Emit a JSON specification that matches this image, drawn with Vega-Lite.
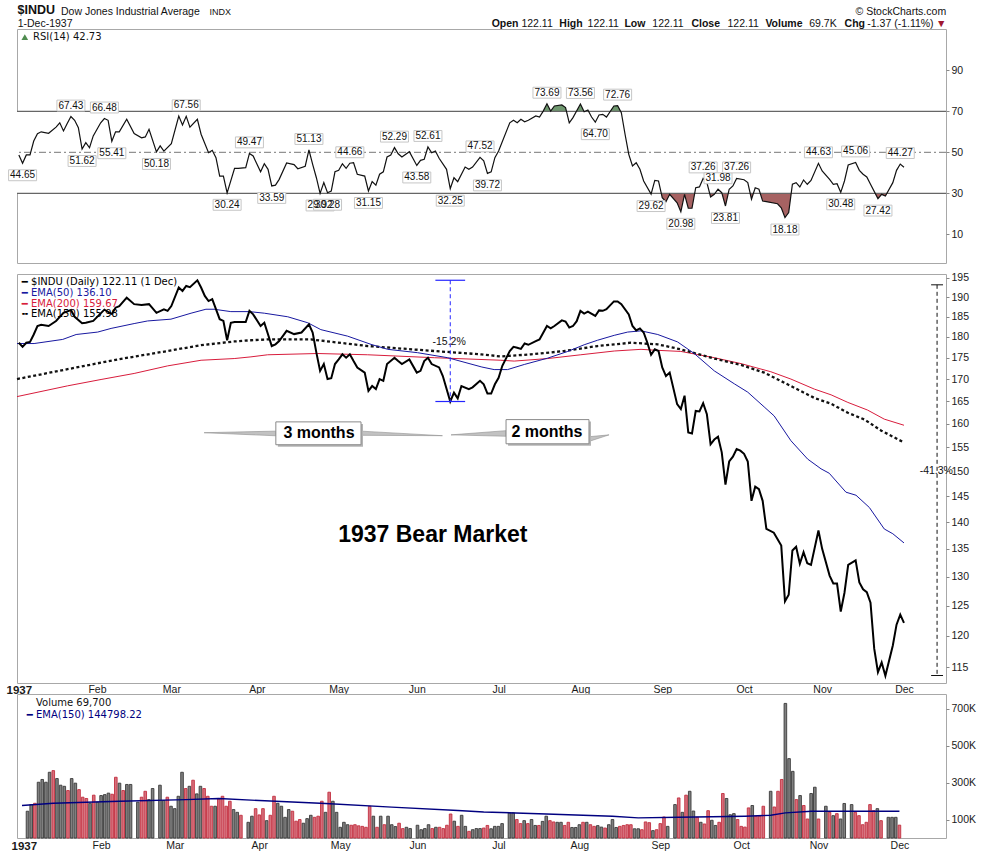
{
  "$schema": "https://vega.github.io/schema/vega-lite/v6.json",
  "background": "white",
  "padding": {"left": 5, "top": 2, "right": 0, "bottom": 0},
  "bounds": "flush",
  "spacing": 11,
  "resolve": {"scale": {"x": "independent", "y": "independent", "color": "independent", "stroke": "independent"}},
  "config": {
    "view": {"stroke": "#a8a8a8"},
    "axis": {"labelFont": "Liberation Sans", "labelFontSize": 10.5, "labelColor": "#1a1a1a", "tickColor": "#888888", "domain": false, "grid": false}
  },
  "datasets": {
    "px": [
      {"d":0,"p":178.6},{"d":1,"p":177.6},{"d":2,"p":178.6},{"d":3,"p":178.8},{"d":4,"p":180.6},{"d":5,"p":182.7},{"d":6,"p":183.0},{"d":8,"p":182.7},{"d":10,"p":183.95},{"d":12,"p":186.0},{"d":14,"p":186.7},{"d":15,"p":185.0},{"d":17,"p":183.4},{"d":18,"p":183.5},{"d":20,"p":183.95},{"d":23,"p":186.8},{"d":25,"p":185.7},{"d":26,"p":187.3},{"d":27,"p":187.7},{"d":29,"p":189.85},
      {"d":31,"p":188.2},{"d":33,"p":188.0},{"d":35,"p":188.2},{"d":37,"p":186.0},{"d":39,"p":186.9},{"d":40,"p":186.5},{"d":41,"p":187.7},{"d":43,"p":192.5},{"d":44,"p":191.6},{"d":45,"p":192.9},{"d":46,"p":192.6},{"d":48,"p":194.4},{"d":49,"p":192.5},{"d":50,"p":190.3},{"d":51,"p":189.0},{"d":52,"p":189.5},{"d":54,"p":184.4},{"d":55,"p":183.95},{"d":56,"p":179.2},{"d":57,"p":183.5},{"d":58,"p":183.7},
      {"d":61,"p":183.7},{"d":62,"p":186.5},{"d":63,"p":185.6},{"d":65,"p":182.7},{"d":66,"p":183.5},{"d":68,"p":177.8},{"d":69,"p":178.2},{"d":70,"p":179.0},{"d":72,"p":181.5},{"d":74,"p":180.7},{"d":76,"p":181.1},{"d":78,"p":183.1},{"d":79,"p":181.1},{"d":80,"p":176.2},{"d":81,"p":171.9},{"d":82,"p":173.5},{"d":83,"p":170.0},{"d":84,"p":170.2},{"d":85,"p":173.5},{"d":86,"p":174.6},{"d":87,"p":175.8},{"d":88,"p":175.0},{"d":89,"p":175.8},{"d":90,"p":174.2},{"d":91,"p":172.7},{"d":93,"p":171.5},{"d":94,"p":167.3},{"d":95,"p":168.4},{"d":96,"p":167.7},{"d":97,"p":170.0},{"d":98,"p":169.6},{"d":99,"p":173.5},
      {"d":101,"p":175.0},{"d":102,"p":174.2},{"d":103,"p":173.5},{"d":105,"p":174.6},{"d":107,"p":171.5},{"d":108,"p":171.9},{"d":109,"p":174.2},{"d":110,"p":175.0},{"d":111,"p":173.5},{"d":113,"p":172.7},{"d":114,"p":170.7},{"d":116,"p":164.9},{"d":117,"p":166.9},{"d":118,"p":165.6},{"d":119,"p":168.4},{"d":121,"p":167.7},{"d":122,"p":168.1},{"d":124,"p":169.6},{"d":125,"p":168.8},{"d":126,"p":166.7},{"d":127,"p":166.7},{"d":128,"p":168.8},{"d":129,"p":170.3},{"d":130,"p":173.1},
      {"d":132,"p":176.6},{"d":133,"p":177.6},{"d":134,"p":177.4},{"d":135,"p":177.1},{"d":136,"p":178.4},{"d":137,"p":178.1},{"d":139,"p":179.0},{"d":140,"p":179.4},{"d":142,"p":182.7},{"d":143,"p":182.1},{"d":144,"p":182.7},{"d":146,"p":184.1},{"d":147,"p":183.8},{"d":148,"p":182.3},{"d":149,"p":182.7},{"d":150,"p":183.9},{"d":151,"p":186.5},{"d":152,"p":185.8},{"d":153,"p":186.3},{"d":155,"p":185.2},{"d":156,"p":186.6},{"d":157,"p":186.5},{"d":158,"p":186.9},{"d":160,"p":188.9},{"d":161,"p":188.9},{"d":162,"p":188.2},{"d":164,"p":185.6},{"d":165,"p":182.7},{"d":166,"p":181.6},{"d":167,"p":182.1},{"d":168,"p":181.1},{"d":169,"p":178.6},{"d":170,"p":175.7},{"d":171,"p":177.0},{"d":172,"p":176.6},{"d":173,"p":172.7},{"d":174,"p":170.7},{"d":175,"p":171.5},
      {"d":177,"p":164.3},{"d":178,"p":163.2},{"d":179,"p":166.2},{"d":180,"p":158.1},{"d":181,"p":157.9},{"d":182,"p":162.8},{"d":183,"p":162.7},{"d":184,"p":164.5},{"d":185,"p":162.1},{"d":186,"p":155.6},{"d":187,"p":156.6},{"d":188,"p":157.2},{"d":189,"p":153.9},{"d":190,"p":147.3},{"d":191,"p":152.0},{"d":192,"p":153.0},{"d":193,"p":154.6},{"d":194,"p":154.25},{"d":195,"p":153.6},{"d":196,"p":152.0},{"d":197,"p":144.1},{"d":198,"p":146.9},{"d":199,"p":146.4},{"d":200,"p":144.1},{"d":201,"p":138.7},
      {"d":203,"p":138.0},{"d":205,"p":135.6},{"d":206,"p":125.73},{"d":207,"p":126.85},{"d":208,"p":134.7},{"d":209,"p":135.4},{"d":210,"p":132.3},{"d":211,"p":134.4},{"d":212,"p":132.4},{"d":213,"p":132.1},{"d":215,"p":138.4},{"d":216,"p":135.0},{"d":218,"p":130.2},{"d":219,"p":128.8},{"d":220,"p":128.8},{"d":221,"p":124.0},{"d":222,"p":127.2},{"d":223,"p":132.1},{"d":225,"p":132.9},{"d":226,"p":129.0},{"d":227,"p":127.8},{"d":228,"p":127.3},{"d":229,"p":125.5},{"d":230,"p":117.9},{"d":231,"p":114.2},{"d":232,"p":115.7},{"d":233,"p":113.64},{"d":235,"p":118.4},{"d":236,"p":121.8},{"d":237,"p":123.48},{"d":238,"p":122.11}
    ],
    "ema": [
      {"s":"e50","d":-0.5,"p":178.4},{"s":"e50","d":4.1,"p":178.4},{"s":"e50","d":11.8,"p":179.4},{"s":"e50","d":15.4,"p":180.6},{"s":"e50","d":21.2,"p":181.2},{"s":"e50","d":24.8,"p":182.1},{"s":"e50","d":31,"p":183.3},{"s":"e50","d":34.6,"p":183.95},{"s":"e50","d":40.9,"p":184.4},{"s":"e50","d":46.3,"p":185.9},{"s":"e50","d":50.3,"p":186.9},{"s":"e50","d":52.5,"p":186.9},{"s":"e50","d":57,"p":186.3},{"s":"e50","d":62,"p":186.3},{"s":"e50","d":66,"p":185.9},{"s":"e50","d":72.3,"p":185.0},{"s":"e50","d":77.7,"p":183.5},{"s":"e50","d":81.2,"p":181.8},{"s":"e50","d":88.4,"p":180.2},{"s":"e50","d":94.7,"p":178.2},{"s":"e50","d":99.2,"p":177.0},{"s":"e50","d":107.2,"p":176.2},{"s":"e50","d":115.3,"p":175.0},{"s":"e50","d":124.5,"p":172.8},{"s":"e50","d":127.8,"p":172.2},{"s":"e50","d":131.4,"p":172.2},{"s":"e50","d":135.9,"p":173.4},{"s":"e50","d":142.2,"p":174.9},{"s":"e50","d":147.6,"p":176.5},{"s":"e50","d":152,"p":178.1},{"s":"e50","d":155.6,"p":179.2},{"s":"e50","d":160.1,"p":180.4},{"s":"e50","d":163.7,"p":181.2},{"s":"e50","d":167.3,"p":181.5},{"s":"e50","d":171.8,"p":180.6},{"s":"e50","d":177.1,"p":178.8},{"s":"e50","d":181.6,"p":176.0},{"s":"e50","d":187,"p":171.9},{"s":"e50","d":192.4,"p":168.9},{"s":"e50","d":196,"p":167.0},{"s":"e50","d":200.4,"p":163.7},{"s":"e50","d":203.1,"p":161.7},{"s":"e50","d":207.6,"p":156.35},{"s":"e50","d":212.1,"p":152.5},{"s":"e50","d":215.7,"p":150.5},{"s":"e50","d":217.9,"p":149.6},{"s":"e50","d":222.4,"p":145.8},{"s":"e50","d":225.1,"p":145.2},{"s":"e50","d":228.7,"p":142.8},{"s":"e50","d":232.7,"p":138.7},{"s":"e50","d":235,"p":137.8},{"s":"e50","d":238,"p":136.1},
      {"s":"e200","d":-0.5,"p":166.0},{"s":"e200","d":13.1,"p":168.44},{"s":"e200","d":22.1,"p":169.9},{"s":"e200","d":31,"p":171.3},{"s":"e200","d":40,"p":173.07},{"s":"e200","d":49,"p":174.4},{"s":"e200","d":57.9,"p":174.8},{"s":"e200","d":62.4,"p":175.2},{"s":"e200","d":66.9,"p":175.7},{"s":"e200","d":80.3,"p":176.0},{"s":"e200","d":93.8,"p":175.7},{"s":"e200","d":111.7,"p":175.0},{"s":"e200","d":129.6,"p":174.4},{"s":"e200","d":133.2,"p":174.2},{"s":"e200","d":142.2,"p":174.8},{"s":"e200","d":151.1,"p":175.7},{"s":"e200","d":160.1,"p":176.6},{"s":"e200","d":167.3,"p":177.0},{"s":"e200","d":170.9,"p":176.8},{"s":"e200","d":178,"p":176.5},{"s":"e200","d":187,"p":175.0},{"s":"e200","d":194.2,"p":173.6},{"s":"e200","d":202.2,"p":171.7},{"s":"e200","d":207.6,"p":170.0},{"s":"e200","d":213.9,"p":167.7},{"s":"e200","d":218.4,"p":166.4},{"s":"e200","d":222.9,"p":164.7},{"s":"e200","d":228.2,"p":163.0},{"s":"e200","d":232.7,"p":161.0},{"s":"e200","d":238,"p":159.67},
      {"s":"e150","d":-0.5,"p":170.0},{"s":"e150","d":13.1,"p":172.3},{"s":"e150","d":26.6,"p":174.6},{"s":"e150","d":40,"p":176.6},{"s":"e150","d":49,"p":178.0},{"s":"e150","d":57.9,"p":178.9},{"s":"e150","d":62.4,"p":179.2},{"s":"e150","d":66.9,"p":179.4},{"s":"e150","d":78.5,"p":179.4},{"s":"e150","d":93.8,"p":177.8},{"s":"e150","d":111.7,"p":176.6},{"s":"e150","d":124.3,"p":175.8},{"s":"e150","d":129.6,"p":175.3},{"s":"e150","d":137.7,"p":175.8},{"s":"e150","d":146.7,"p":176.6},{"s":"e150","d":155.6,"p":177.8},{"s":"e150","d":164.6,"p":178.6},{"s":"e150","d":171.8,"p":178.2},{"s":"e150","d":178,"p":177.0},{"s":"e150","d":187,"p":174.8},{"s":"e150","d":194.2,"p":173.3},{"s":"e150","d":200.4,"p":171.5},{"s":"e150","d":207.6,"p":168.4},{"s":"e150","d":213.9,"p":165.7},{"s":"e150","d":218.4,"p":164.4},{"s":"e150","d":222.9,"p":162.4},{"s":"e150","d":227.4,"p":160.9},{"s":"e150","d":231.9,"p":158.5},{"s":"e150","d":238,"p":155.98}
    ],
    "rsi": [
      {"d":0,"r":48.7},{"d":1,"r":44.65},{"d":2,"r":48.7},{"d":3,"r":48.7},{"d":4,"r":55.5},{"d":5,"r":59.1},{"d":6,"r":60.0},{"d":8,"r":59.3},{"d":10,"r":62.3},{"d":11,"r":64.4},{"d":12,"r":60.4},{"d":13,"r":64.0},{"d":14,"r":67.43},{"d":15,"r":65.6},{"d":16,"r":62.0},{"d":17,"r":51.62},{"d":18,"r":54.7},{"d":19,"r":52.2},{"d":20,"r":58.0},{"d":22,"r":64.4},{"d":23,"r":66.48},{"d":24,"r":65.6},{"d":25,"r":55.41},{"d":26,"r":60.0},{"d":27,"r":60.0},{"d":29,"r":66.1},
      {"d":31,"r":59.1},{"d":33,"r":57.1},{"d":34,"r":57.5},{"d":35,"r":61.2},{"d":37,"r":50.18},{"d":38,"r":53.1},{"d":39,"r":50.6},{"d":41,"r":54.2},{"d":43,"r":67.7},{"d":44,"r":63.3},{"d":45,"r":67.56},{"d":46,"r":62.3},{"d":48,"r":66.1},{"d":49,"r":58.8},{"d":51,"r":49.8},{"d":52,"r":51.0},{"d":53,"r":47.4},{"d":54,"r":38.4},{"d":55,"r":38.4},{"d":56,"r":30.24},{"d":58,"r":42.2},{"d":59,"r":42.2},
      {"d":61,"r":42.5},{"d":62,"r":49.47},{"d":63,"r":48.2},{"d":65,"r":40.5},{"d":66,"r":44.4},{"d":67,"r":41.7},{"d":68,"r":33.59},{"d":69,"r":34.0},{"d":70,"r":36.8},{"d":72,"r":44.8},{"d":74,"r":44.0},{"d":75,"r":42.0},{"d":77,"r":43.2},{"d":78,"r":51.13},{"d":79,"r":44.1},{"d":80,"r":37.6},{"d":81,"r":29.92},{"d":82,"r":35.2},{"d":83,"r":30.28},{"d":84,"r":31.1},{"d":85,"r":40.5},{"d":86,"r":41.2},{"d":87,"r":44.4},{"d":88,"r":42.2},{"d":89,"r":44.66},{"d":90,"r":44.9},{"d":91,"r":39.3},{"d":93,"r":38.4},{"d":94,"r":31.15},{"d":95,"r":35.7},{"d":96,"r":34.0},{"d":97,"r":39.3},{"d":98,"r":40.5},{"d":99,"r":47.7},{"d":100,"r":48.7},
      {"d":101,"r":52.29},{"d":102,"r":49.3},{"d":103,"r":47.7},{"d":105,"r":50.3},{"d":107,"r":43.58},{"d":108,"r":46.1},{"d":109,"r":46.6},{"d":110,"r":52.61},{"d":111,"r":49.8},{"d":112,"r":50.6},{"d":113,"r":47.1},{"d":115,"r":41.7},{"d":116,"r":32.25},{"d":117,"r":37.6},{"d":118,"r":35.7},{"d":120,"r":42.8},{"d":121,"r":41.7},{"d":122,"r":42.8},{"d":124,"r":47.52},{"d":125,"r":45.8},{"d":126,"r":39.72},{"d":127,"r":40.5},{"d":128,"r":47.4},{"d":129,"r":50.6},
      {"d":132,"r":64.4},{"d":133,"r":65.6},{"d":134,"r":64.4},{"d":135,"r":66.1},{"d":136,"r":64.9},{"d":137,"r":65.6},{"d":139,"r":67.7},{"d":140,"r":67.2},{"d":141,"r":70.1},{"d":142,"r":73.69},{"d":143,"r":70.1},{"d":144,"r":72.6},{"d":146,"r":73.1},{"d":147,"r":71.8},{"d":148,"r":64.4},{"d":149,"r":66.9},{"d":151,"r":73.56},{"d":152,"r":69.8},{"d":153,"r":70.6},{"d":154,"r":67.2},{"d":155,"r":64.70},{"d":156,"r":68.2},{"d":157,"r":68.5},{"d":158,"r":67.2},{"d":160,"r":72.6},{"d":161,"r":72.76},{"d":162,"r":69.3},{"d":163,"r":58.8},{"d":164,"r":49.0},{"d":165,"r":43.3},{"d":166,"r":44.9},{"d":167,"r":41.7},{"d":168,"r":36.0},{"d":170,"r":29.62},{"d":171,"r":36.3},{"d":172,"r":36.0},{"d":173,"r":27.9},{"d":174,"r":25.9},{"d":175,"r":29.5},
      {"d":177,"r":25.4},{"d":178,"r":20.98},{"d":179,"r":29.5},{"d":180,"r":22.7},{"d":181,"r":22.7},{"d":182,"r":32.7},{"d":183,"r":33.1},{"d":184,"r":37.26},{"d":185,"r":35.2},{"d":186,"r":28.2},{"d":187,"r":29.5},{"d":188,"r":31.98},{"d":189,"r":30.3},{"d":190,"r":23.81},{"d":191,"r":32.0},{"d":192,"r":33.6},{"d":193,"r":37.26},{"d":195,"r":36.6},{"d":196,"r":35.2},{"d":197,"r":27.1},{"d":198,"r":32.7},{"d":199,"r":32.0},{"d":200,"r":26.2},{"d":201,"r":25.9},
      {"d":204,"r":24.9},{"d":205,"r":22.9},{"d":206,"r":18.18},{"d":207,"r":20.6},{"d":208,"r":34.4},{"d":209,"r":35.2},{"d":210,"r":33.1},{"d":211,"r":36.5},{"d":212,"r":34.4},{"d":213,"r":36.3},{"d":215,"r":44.63},{"d":216,"r":40.9},{"d":218,"r":36.8},{"d":219,"r":34.4},{"d":220,"r":34.7},{"d":221,"r":30.48},{"d":222,"r":36.0},{"d":223,"r":43.8},{"d":225,"r":45.06},{"d":226,"r":41.2},{"d":227,"r":39.3},{"d":228,"r":38.0},{"d":229,"r":34.4},{"d":231,"r":27.42},{"d":232,"r":29.5},{"d":233,"r":28.7},{"d":235,"r":35.2},{"d":236,"r":41.2},{"d":237,"r":44.27},{"d":238,"r":42.73}
    ],
    "rl": [
      {"d":14,"r":67.43,"hl":"h"},{"d":23,"r":66.48,"hl":"h"},{"d":45,"r":67.56,"hl":"h"},{"d":62,"r":49.47,"hl":"h"},{"d":78,"r":51.13,"hl":"h"},{"d":89,"r":44.66,"hl":"h"},{"d":101,"r":52.29,"hl":"h"},{"d":110,"r":52.61,"hl":"h"},{"d":124,"r":47.52,"hl":"h"},{"d":142,"r":73.69,"hl":"h"},{"d":151,"r":73.56,"hl":"h"},{"d":161,"r":72.76,"hl":"h"},{"d":184,"r":37.26,"hl":"h"},{"d":188,"r":31.98,"hl":"h"},{"d":193,"r":37.26,"hl":"h"},{"d":215,"r":44.63,"hl":"h"},{"d":225,"r":45.06,"hl":"h"},{"d":237,"r":44.27,"hl":"h"},
      {"d":1,"r":44.65,"hl":"l"},{"d":17,"r":51.62,"hl":"l"},{"d":25,"r":55.41,"hl":"l"},{"d":37,"r":50.18,"hl":"l"},{"d":56,"r":30.24,"hl":"l"},{"d":68,"r":33.59,"hl":"l"},{"d":81,"r":29.92,"hl":"l"},{"d":83,"r":30.28,"hl":"l"},{"d":94,"r":31.15,"hl":"l"},{"d":107,"r":43.58,"hl":"l"},{"d":116,"r":32.25,"hl":"l"},{"d":126,"r":39.72,"hl":"l"},{"d":155,"r":64.70,"hl":"l"},{"d":170,"r":29.62,"hl":"l"},{"d":178,"r":20.98,"hl":"l"},{"d":190,"r":23.81,"hl":"l"},{"d":206,"r":18.18,"hl":"l"},{"d":221,"r":30.48,"hl":"l"},{"d":231,"r":27.42,"hl":"l"}
    ],
    "vol": [
      {"d":1,"v":145,"c":"u"},{"d":2,"v":181,"c":"u"},{"d":3,"v":188,"c":"d"},{"d":4,"v":302,"c":"u"},{"d":5,"v":317,"c":"u"},{"d":6,"v":302,"c":"u"},{"d":7,"v":356,"c":"u"},{"d":8,"v":365,"c":"d"},{"d":9,"v":322,"c":"u"},{"d":10,"v":286,"c":"u"},{"d":11,"v":280,"c":"u"},{"d":12,"v":257,"c":"d"},{"d":13,"v":322,"c":"u"},{"d":14,"v":297,"c":"u"},{"d":15,"v":262,"c":"d"},{"d":16,"v":221,"c":"d"},{"d":17,"v":214,"c":"d"},{"d":18,"v":188,"c":"u"},{"d":19,"v":232,"c":"d"},{"d":20,"v":194,"c":"u"},
      {"d":21,"v":230,"c":"u"},{"d":22,"v":235,"c":"u"},{"d":23,"v":243,"c":"u"},{"d":24,"v":237,"c":"d"},{"d":25,"v":329,"c":"d"},{"d":26,"v":297,"c":"u"},{"d":27,"v":257,"c":"d"},{"d":28,"v":290,"c":"u"},{"d":29,"v":290,"c":"u"},{"d":31,"v":194,"c":"u"},{"d":32,"v":221,"c":"d"},{"d":33,"v":253,"c":"d"},{"d":34,"v":208,"c":"u"},{"d":35,"v":268,"c":"u"},{"d":37,"v":286,"c":"u"},{"d":38,"v":203,"c":"u"},{"d":39,"v":221,"c":"d"},{"d":40,"v":172,"c":"u"},
      {"d":41,"v":159,"c":"u"},{"d":42,"v":226,"c":"u"},{"d":43,"v":356,"c":"u"},{"d":44,"v":268,"c":"d"},{"d":45,"v":280,"c":"u"},{"d":46,"v":313,"c":"d"},{"d":47,"v":239,"c":"u"},{"d":48,"v":280,"c":"u"},{"d":49,"v":268,"c":"d"},{"d":50,"v":226,"c":"d"},{"d":51,"v":172,"c":"d"},{"d":52,"v":172,"c":"u"},{"d":53,"v":212,"c":"d"},{"d":54,"v":226,"c":"d"},{"d":55,"v":172,"c":"d"},{"d":56,"v":199,"c":"d"},{"d":57,"v":154,"c":"u"},{"d":58,"v":139,"c":"u"},{"d":59,"v":123,"c":"d"},
      {"d":61,"v":85,"c":"u"},{"d":62,"v":118,"c":"u"},{"d":63,"v":159,"c":"d"},{"d":64,"v":125,"c":"d"},{"d":65,"v":159,"c":"d"},{"d":66,"v":94,"c":"u"},{"d":67,"v":123,"c":"d"},{"d":68,"v":226,"c":"d"},{"d":69,"v":188,"c":"u"},{"d":70,"v":172,"c":"u"},{"d":71,"v":112,"c":"u"},{"d":72,"v":154,"c":"u"},{"d":73,"v":145,"c":"d"},{"d":74,"v":91,"c":"d"},{"d":75,"v":100,"c":"d"},{"d":76,"v":80,"c":"u"},{"d":77,"v":105,"c":"u"},{"d":78,"v":123,"c":"u"},{"d":79,"v":112,"c":"d"},{"d":80,"v":118,"c":"d"},
      {"d":81,"v":199,"c":"d"},{"d":82,"v":139,"c":"u"},{"d":83,"v":248,"c":"d"},{"d":84,"v":199,"c":"u"},{"d":85,"v":139,"c":"u"},{"d":86,"v":58,"c":"u"},{"d":87,"v":85,"c":"u"},{"d":88,"v":72,"c":"u"},{"d":89,"v":69,"c":"d"},{"d":90,"v":72,"c":"d"},{"d":91,"v":66,"c":"d"},{"d":92,"v":63,"c":"d"},{"d":93,"v":58,"c":"d"},{"d":94,"v":172,"c":"d"},{"d":95,"v":118,"c":"u"},{"d":96,"v":58,"c":"d"},{"d":97,"v":118,"c":"u"},{"d":98,"v":72,"c":"d"},{"d":99,"v":118,"c":"u"},{"d":100,"v":72,"c":"u"},
      {"d":101,"v":62,"c":"u"},{"d":102,"v":80,"c":"d"},{"d":103,"v":51,"c":"d"},{"d":104,"v":58,"c":"u"},{"d":105,"v":51,"c":"u"},{"d":107,"v":69,"c":"u"},{"d":108,"v":45,"c":"u"},{"d":109,"v":51,"c":"u"},{"d":110,"v":72,"c":"u"},{"d":111,"v":51,"c":"d"},{"d":112,"v":58,"c":"u"},{"d":113,"v":58,"c":"d"},{"d":114,"v":51,"c":"d"},{"d":115,"v":69,"c":"d"},{"d":116,"v":130,"c":"d"},{"d":117,"v":91,"c":"u"},{"d":118,"v":63,"c":"d"},{"d":119,"v":123,"c":"u"},{"d":120,"v":63,"c":"u"},
      {"d":121,"v":36,"c":"d"},{"d":122,"v":45,"c":"u"},{"d":123,"v":51,"c":"u"},{"d":124,"v":51,"c":"u"},{"d":125,"v":54,"c":"d"},{"d":126,"v":68,"c":"d"},{"d":127,"v":50,"c":"u"},{"d":128,"v":63,"c":"u"},{"d":129,"v":63,"c":"u"},{"d":130,"v":78,"c":"u"},{"d":132,"v":136,"c":"u"},{"d":133,"v":136,"c":"u"},{"d":134,"v":100,"c":"d"},{"d":135,"v":78,"c":"d"},{"d":136,"v":94,"c":"u"},{"d":137,"v":78,"c":"d"},{"d":138,"v":100,"c":"u"},{"d":139,"v":68,"c":"u"},{"d":140,"v":68,"c":"d"},
      {"d":141,"v":90,"c":"u"},{"d":142,"v":118,"c":"u"},{"d":143,"v":94,"c":"d"},{"d":144,"v":87,"c":"d"},{"d":145,"v":85,"c":"u"},{"d":146,"v":85,"c":"u"},{"d":147,"v":68,"c":"d"},{"d":148,"v":85,"c":"d"},{"d":149,"v":57,"c":"u"},{"d":150,"v":57,"c":"u"},{"d":151,"v":72,"c":"u"},{"d":152,"v":85,"c":"d"},{"d":153,"v":85,"c":"u"},{"d":154,"v":72,"c":"d"},{"d":155,"v":63,"c":"d"},{"d":156,"v":67,"c":"u"},{"d":157,"v":59,"c":"u"},{"d":158,"v":54,"c":"d"},{"d":159,"v":72,"c":"u"},{"d":160,"v":100,"c":"u"},
      {"d":161,"v":57,"c":"u"},{"d":162,"v":63,"c":"d"},{"d":163,"v":68,"c":"d"},{"d":164,"v":72,"c":"d"},{"d":165,"v":72,"c":"d"},{"d":166,"v":50,"c":"u"},{"d":167,"v":50,"c":"u"},{"d":168,"v":45,"c":"d"},{"d":169,"v":87,"c":"d"},{"d":170,"v":83,"c":"d"},{"d":171,"v":40,"c":"u"},{"d":172,"v":45,"c":"d"},{"d":173,"v":78,"c":"d"},{"d":174,"v":114,"c":"d"},{"d":175,"v":63,"c":"u"},{"d":177,"v":181,"c":"u"},{"d":178,"v":217,"c":"d"},{"d":179,"v":139,"c":"u"},{"d":180,"v":232,"c":"d"},
      {"d":181,"v":253,"c":"u"},{"d":182,"v":146,"c":"u"},{"d":183,"v":112,"c":"d"},{"d":184,"v":85,"c":"u"},{"d":185,"v":76,"c":"d"},{"d":186,"v":148,"c":"d"},{"d":187,"v":96,"c":"u"},{"d":188,"v":68,"c":"u"},{"d":189,"v":85,"c":"d"},{"d":190,"v":241,"c":"d"},{"d":191,"v":214,"c":"u"},{"d":192,"v":126,"c":"u"},{"d":193,"v":132,"c":"u"},{"d":194,"v":100,"c":"d"},{"d":195,"v":63,"c":"d"},{"d":196,"v":59,"c":"d"},{"d":197,"v":163,"c":"d"},{"d":198,"v":176,"c":"u"},{"d":199,"v":118,"c":"d"},{"d":200,"v":118,"c":"d"},
      {"d":201,"v":172,"c":"d"},{"d":203,"v":253,"c":"u"},{"d":204,"v":168,"c":"d"},{"d":205,"v":253,"c":"d"},{"d":206,"v":317,"c":"d"},{"d":207,"v":729,"c":"u"},{"d":208,"v":430,"c":"u"},{"d":209,"v":361,"c":"u"},{"d":210,"v":208,"c":"d"},{"d":211,"v":230,"c":"u"},{"d":212,"v":176,"c":"d"},{"d":213,"v":103,"c":"d"},{"d":214,"v":241,"c":"u"},{"d":215,"v":275,"c":"u"},{"d":216,"v":103,"c":"d"},{"d":218,"v":172,"c":"u"},{"d":219,"v":139,"c":"d"},{"d":220,"v":121,"c":"u"},
      {"d":221,"v":132,"c":"d"},{"d":222,"v":103,"c":"u"},{"d":223,"v":187,"c":"u"},{"d":225,"v":181,"c":"u"},{"d":226,"v":139,"c":"d"},{"d":227,"v":121,"c":"d"},{"d":228,"v":72,"c":"d"},{"d":229,"v":85,"c":"d"},{"d":230,"v":181,"c":"d"},{"d":231,"v":148,"c":"d"},{"d":232,"v":159,"c":"u"},{"d":233,"v":94,"c":"d"},{"d":235,"v":112,"c":"u"},{"d":236,"v":112,"c":"u"},{"d":237,"v":112,"c":"u"},{"d":238,"v":69.7,"c":"d"}
    ],
    "vema": [
      {"d":-0.5,"v":176},{"d":8,"v":188},{"d":26,"v":199},{"d":44,"v":208},{"d":53,"v":214},{"d":64,"v":203},{"d":82,"v":187},{"d":100,"v":167},{"d":118,"v":149},{"d":125,"v":141},{"d":142,"v":130},{"d":160,"v":118},{"d":167,"v":109},{"d":178,"v":112},{"d":196,"v":118},{"d":203,"v":123},{"d":207,"v":136},{"d":214,"v":145},{"d":238,"v":145}
    ],
    "wedge": [
      {"g":"a","d":49.8,"p":158.06,"p2":158.06},{"g":"a","d":69.1,"p":158.4,"p2":157.4},
      {"g":"b","d":92,"p":158.4,"p2":157.5},{"g":"b","d":113.9,"p":157.42,"p2":157.42},
      {"g":"c","d":116.2,"p":157.6,"p2":157.6},{"g":"c","d":131,"p":158.5,"p2":157.3},
      {"g":"e","d":153.3,"p":157.2,"p2":156.2},{"g":"e","d":158.7,"p":157.6,"p2":157.6}
    ],
    "box": [
      {"t":"3 months","d":69.1,"d2":92,"p":160.4,"p2":155.5,"dc":80.7,"pc":158.0},
      {"t":"2 months","d":131,"d2":153.3,"p":160.9,"p2":155.7,"dc":142.0,"pc":158.3}
    ]
  },
  "vconcat": [
    {
      "width": 929,
      "height": 234,
      "layer": [
        {
          "data": {"name": "rsi"},
          "transform": [{"filter": "datum.d >= 138 && datum.d <= 163"}],
          "mark": {"type": "area", "color": "#6f986f"},
          "encoding": {
            "x": {"field": "d", "type": "quantitative"},
            "y": {"field": "r", "type": "quantitative"},
            "y2": {"datum": 70}
          }
        },
        {
          "data": {"name": "rsi"},
          "transform": [{"filter": "datum.d >= 165"}],
          "mark": {"type": "area", "color": "#a66262"},
          "encoding": {
            "x": {"field": "d", "type": "quantitative"},
            "y": {"field": "r", "type": "quantitative"},
            "y2": {"datum": 30}
          }
        },
        {
          "data": {"values": [{}]},
          "mark": {"type": "rect", "color": "white"},
          "encoding": {
            "x": {"datum": -0.5, "type": "quantitative"},
            "x2": {"datum": 249.3},
            "y": {"datum": 30, "type": "quantitative"},
            "y2": {"datum": 70}
          }
        },
        {
          "data": {"values": [{}]},
          "mark": {"type": "rule", "color": "#666666", "strokeWidth": 1.2},
          "encoding": {"y": {"datum": 70, "type": "quantitative"}}
        },
        {
          "data": {"values": [{}]},
          "mark": {"type": "rule", "color": "#666666", "strokeWidth": 1.2},
          "encoding": {"y": {"datum": 30, "type": "quantitative"}}
        },
        {
          "data": {"values": [{}]},
          "mark": {"type": "rule", "color": "#777777", "strokeWidth": 1, "strokeDash": [7, 3, 2, 3]},
          "encoding": {"y": {"datum": 50, "type": "quantitative"}}
        },
        {
          "data": {"name": "rsi"},
          "mark": {"type": "line", "color": "#111111", "strokeWidth": 1.2},
          "encoding": {
            "x": {
              "field": "d", "type": "quantitative",
              "scale": {"domain": [-0.5, 249.3], "nice": false, "zero": false},
              "axis": {
                "orient": "top", "title": null, "domain": false, "ticks": false,
                "values": [-0.5, -0.45, 11.2, 51.1, 249.2, 127, 135, 145.2, 152.8, 162.7, 170.2, 180.7, 190.4, 200.6, 212.4, 221.9, 228, 249.3],
                "labelExpr": "['$INDU',['','1-Dec-1937'],'Dow Jones Industrial Average','INDX','© StockCharts.com',['','Open'],['','122.11'],['','High'],['','122.11'],['','Low'],['','122.11'],['','Close'],['','122.11'],['','Volume'],['','69.7K'],['','Chg'],['','-1.37 (-1.11%)'],['','▼']][indexof([-0.5,-0.45,11.2,51.1,249.2,127,135,145.2,152.8,162.7,170.2,180.7,190.4,200.6,212.4,221.9,228,249.3],datum.value)]",
                "labelPadding": 13,
                "labelOverlap": false,
                "labelBound": false,
                "labelFlush": false,
                "labelLimit": 300,
                "labelBaseline": "bottom",
                "labelLineHeight": 12,
                "labelAlign": {"condition": {"test": "datum.value > 249", "value": "right"}, "value": "left"},
                "labelFontWeight": {"condition": {"test": "indexof([-0.5,127,145.2,162.7,180.7,200.6,221.9], datum.value) >= 0", "value": "bold"}, "value": "normal"},
                "labelFontSize": {"condition": [{"test": "datum.value == -0.5", "value": 12.5}, {"test": "datum.value == 51.1", "value": 9}], "value": 10.5},
                "labelColor": {"condition": {"test": "datum.value == 249.3", "value": "#a01830"}, "value": "#111111"}
              }
            },
            "y": {
              "field": "r", "type": "quantitative",
              "scale": {"domain": [-4, 110.15], "nice": false, "zero": false},
              "axis": {"orient": "right", "title": null, "values": [10, 30, 50, 70, 90], "tickSize": 3, "labelPadding": 2}
            }
          }
        },
        {
          "data": {"name": "rl"},
          "transform": [{"filter": "datum.hl == 'h'"}],
          "mark": {"type": "point", "shape": "M-1,-0.39H1V0.39H-1Z", "size": 784, "filled": true, "fill": "white", "stroke": "#c6c6c6", "strokeWidth": 1, "opacity": 1, "yOffset": -11},
          "encoding": {
            "x": {"field": "d", "type": "quantitative"},
            "y": {"field": "r", "type": "quantitative"}
          }
        },
        {
          "data": {"name": "rl"},
          "transform": [{"filter": "datum.hl == 'h'"}],
          "mark": {"type": "text", "font": "Liberation Sans", "fontSize": 10, "color": "#111111", "baseline": "middle", "yOffset": -11},
          "encoding": {
            "x": {"field": "d", "type": "quantitative"},
            "y": {"field": "r", "type": "quantitative"},
            "text": {"field": "r", "type": "quantitative", "format": ".2f"}
          }
        },
        {
          "data": {"name": "rl"},
          "transform": [{"filter": "datum.hl == 'l'"}],
          "mark": {"type": "point", "shape": "M-1,-0.39H1V0.39H-1Z", "size": 784, "filled": true, "fill": "white", "stroke": "#c6c6c6", "strokeWidth": 1, "opacity": 1, "yOffset": 12},
          "encoding": {
            "x": {"field": "d", "type": "quantitative"},
            "y": {"field": "r", "type": "quantitative"}
          }
        },
        {
          "data": {"name": "rl"},
          "transform": [{"filter": "datum.hl == 'l'"}],
          "mark": {"type": "text", "font": "Liberation Sans", "fontSize": 10, "color": "#111111", "baseline": "middle", "yOffset": 12},
          "encoding": {
            "x": {"field": "d", "type": "quantitative"},
            "y": {"field": "r", "type": "quantitative"},
            "text": {"field": "r", "type": "quantitative", "format": ".2f"}
          }
        },
        {
          "data": {"values": [{}]},
          "mark": {"type": "point", "shape": "triangle-up", "size": 45, "filled": true, "color": "#4f8c4f", "opacity": 1},
          "encoding": {
            "x": {"datum": 1.6, "type": "quantitative"},
            "y": {"datum": 106.2, "type": "quantitative"}
          }
        },
        {
          "data": {"values": [{}]},
          "mark": {"type": "text", "text": "RSI(14) 42.73", "font": "DejaVu Sans", "fontSize": 10, "align": "left", "baseline": "middle", "color": "#111111"},
          "encoding": {
            "x": {"datum": 3.8, "type": "quantitative"},
            "y": {"datum": 106.2, "type": "quantitative"}
          }
        }
      ]
    },
    {
      "width": 929,
      "height": 409,
      "layer": [
        {
          "data": {"name": "ema"},
          "transform": [{"filter": "datum.s == 'e200'"}],
          "mark": {"type": "line", "color": "#d81c3c", "strokeWidth": 1},
          "encoding": {
            "x": {"field": "d", "type": "quantitative"},
            "y": {"field": "p", "type": "quantitative"}
          }
        },
        {
          "data": {"name": "ema"},
          "transform": [{"filter": "datum.s == 'e150'"}],
          "mark": {"type": "line", "color": "#111111", "strokeWidth": 2.3, "strokeDash": [3, 2.5]},
          "encoding": {
            "x": {"field": "d", "type": "quantitative"},
            "y": {"field": "p", "type": "quantitative"}
          }
        },
        {
          "data": {"name": "ema"},
          "transform": [{"filter": "datum.s == 'e50'"}],
          "mark": {"type": "line", "color": "#1818a0", "strokeWidth": 1},
          "encoding": {
            "x": {"field": "d", "type": "quantitative"},
            "y": {"field": "p", "type": "quantitative"}
          }
        },
        {
          "data": {"name": "px"},
          "mark": {"type": "line", "color": "#000000", "strokeWidth": 2},
          "encoding": {
            "x": {
              "field": "d", "type": "quantitative",
              "scale": {"domain": [-0.5, 249.3], "nice": false, "zero": false},
              "axis": {
                "orient": "bottom", "title": null, "ticks": false, "domain": false,
                "values": [0, 21, 41, 64, 86, 107, 129, 151, 173, 195, 216, 238],
                "labelExpr": "['1937','Feb','Mar','Apr','May','Jun','Jul','Aug','Sep','Oct','Nov','Dec'][indexof([0,21,41,64,86,107,129,151,173,195,216,238],datum.value)]",
                "labelPadding": 1, "labelOverlap": false, "labelFlush": false,
                "labelFontWeight": {"condition": {"test": "datum.value == 0", "value": "bold"}, "value": "normal"},
                "labelFontSize": {"condition": {"test": "datum.value == 0", "value": 11.5}, "value": 10.5}
              }
            },
            "y": {
              "field": "p", "type": "quantitative",
              "scale": {"type": "log", "domain": [112.53, 196.06], "nice": false, "zero": false},
              "axis": {"orient": "right", "title": null, "values": [115, 120, 125, 130, 135, 140, 145, 150, 155, 160, 165, 170, 175, 180, 185, 190, 195], "tickSize": 3, "labelPadding": 2}
            }
          }
        },
        {
          "data": {"values": [{}]},
          "mark": {"type": "rule", "color": "#2424ff", "strokeWidth": 1, "strokeDash": [4, 3]},
          "encoding": {
            "x": {"datum": 116, "type": "quantitative"},
            "y": {"datum": 194.4, "type": "quantitative"},
            "y2": {"datum": 164.9}
          }
        },
        {
          "data": {"values": [{}]},
          "mark": {"type": "rule", "color": "#2424ff", "strokeWidth": 1.2},
          "encoding": {
            "x": {"datum": 112, "type": "quantitative"},
            "x2": {"datum": 120},
            "y": {"datum": 194.4, "type": "quantitative"}
          }
        },
        {
          "data": {"values": [{}]},
          "mark": {"type": "rule", "color": "#2424ff", "strokeWidth": 1.2},
          "encoding": {
            "x": {"datum": 112, "type": "quantitative"},
            "x2": {"datum": 120},
            "y": {"datum": 164.9, "type": "quantitative"}
          }
        },
        {
          "data": {"values": [{}]},
          "mark": {"type": "text", "text": "-15.2%", "font": "Liberation Sans", "fontSize": 10.5, "color": "#111111", "baseline": "middle"},
          "encoding": {
            "x": {"datum": 115.7, "type": "quantitative"},
            "y": {"datum": 178.8, "type": "quantitative"}
          }
        },
        {
          "data": {"values": [{}]},
          "mark": {"type": "rule", "color": "#111111", "strokeWidth": 1, "strokeDash": [4, 3]},
          "encoding": {
            "x": {"datum": 246.9, "type": "quantitative"},
            "y": {"datum": 193.2, "type": "quantitative"},
            "y2": {"datum": 113.68}
          }
        },
        {
          "data": {"values": [{}]},
          "mark": {"type": "rule", "color": "#111111", "strokeWidth": 1},
          "encoding": {
            "x": {"datum": 245.3, "type": "quantitative"},
            "x2": {"datum": 248.5},
            "y": {"datum": 193.2, "type": "quantitative"}
          }
        },
        {
          "data": {"values": [{}]},
          "mark": {"type": "rule", "color": "#111111", "strokeWidth": 1},
          "encoding": {
            "x": {"datum": 245.3, "type": "quantitative"},
            "x2": {"datum": 248.5},
            "y": {"datum": 113.68, "type": "quantitative"}
          }
        },
        {
          "data": {"values": [{}]},
          "mark": {"type": "text", "text": "-41.3%", "font": "Liberation Sans", "fontSize": 10.5, "color": "#111111", "baseline": "middle"},
          "encoding": {
            "x": {"datum": 246.7, "type": "quantitative"},
            "y": {"datum": 150.1, "type": "quantitative"}
          }
        },
        {
          "data": {"name": "wedge"},
          "mark": {"type": "area", "color": "#c2c2c2", "stroke": "#8e8e8e", "strokeWidth": 0.6},
          "encoding": {
            "x": {"field": "d", "type": "quantitative"},
            "y": {"field": "p", "type": "quantitative"},
            "y2": {"field": "p2"},
            "detail": {"field": "g"}
          }
        },
        {
          "data": {"name": "box"},
          "mark": {"type": "rect", "color": "#b4b4b4", "xOffset": 2, "x2Offset": 2, "yOffset": 2, "y2Offset": 2},
          "encoding": {
            "x": {"field": "d", "type": "quantitative"},
            "x2": {"field": "d2"},
            "y": {"field": "p", "type": "quantitative"},
            "y2": {"field": "p2"}
          }
        },
        {
          "data": {"name": "box"},
          "mark": {"type": "rect", "fill": "white", "stroke": "#8a8a8a", "strokeWidth": 1},
          "encoding": {
            "x": {"field": "d", "type": "quantitative"},
            "x2": {"field": "d2"},
            "y": {"field": "p", "type": "quantitative"},
            "y2": {"field": "p2"}
          }
        },
        {
          "data": {"name": "box"},
          "mark": {"type": "text", "font": "Liberation Sans", "fontSize": 16, "fontWeight": "bold", "color": "#000000", "baseline": "middle"},
          "encoding": {
            "x": {"field": "dc", "type": "quantitative"},
            "y": {"field": "pc", "type": "quantitative"},
            "text": {"field": "t"}
          }
        },
        {
          "data": {"values": [{}]},
          "mark": {"type": "text", "text": "1937 Bear Market", "font": "Liberation Sans", "fontSize": 23, "fontWeight": "bold", "color": "#000000", "baseline": "middle"},
          "encoding": {
            "x": {"datum": 111.3, "type": "quantitative"},
            "y": {"datum": 137.6, "type": "quantitative"}
          }
        },
        {
          "data": {"values": [{}]},
          "mark": {"type": "text", "text": "━ $INDU (Daily) 122.11 (1 Dec)", "font": "DejaVu Sans", "fontSize": 10, "align": "left", "baseline": "middle", "color": "#000000"},
          "encoding": {
            "x": {"datum": 0.8, "type": "quantitative"},
            "y": {"datum": 194.0, "type": "quantitative"}
          }
        },
        {
          "data": {"values": [{}]},
          "mark": {"type": "text", "text": "━ EMA(50) 136.10", "font": "DejaVu Sans", "fontSize": 10, "align": "left", "baseline": "middle", "color": "#1818a0"},
          "encoding": {
            "x": {"datum": 0.8, "type": "quantitative"},
            "y": {"datum": 191.14, "type": "quantitative"}
          }
        },
        {
          "data": {"values": [{}]},
          "mark": {"type": "text", "text": "━ EMA(200) 159.67", "font": "DejaVu Sans", "fontSize": 10, "align": "left", "baseline": "middle", "color": "#d81c3c"},
          "encoding": {
            "x": {"datum": 0.8, "type": "quantitative"},
            "y": {"datum": 188.15, "type": "quantitative"}
          }
        },
        {
          "data": {"values": [{}]},
          "mark": {"type": "text", "text": "╍ EMA(150) 155.98", "font": "DejaVu Sans", "fontSize": 10, "align": "left", "baseline": "middle", "color": "#000000"},
          "encoding": {
            "x": {"datum": 0.8, "type": "quantitative"},
            "y": {"datum": 185.62, "type": "quantitative"}
          }
        }
      ]
    },
    {
      "width": 929,
      "height": 144,
      "layer": [
        {
          "data": {"name": "vol"},
          "mark": {"type": "bar", "width": 2.6, "strokeWidth": 0.9},
          "encoding": {
            "x": {
              "field": "d", "type": "quantitative",
              "scale": {"domain": [-0.5, 249.3], "nice": false, "zero": false},
              "axis": {
                "orient": "bottom", "title": null, "ticks": false, "domain": false,
                "values": [0, 21, 41, 64, 86, 107, 129, 151, 173, 195, 216, 238],
                "labelExpr": "['1937','Feb','Mar','Apr','May','Jun','Jul','Aug','Sep','Oct','Nov','Dec'][indexof([0,21,41,64,86,107,129,151,173,195,216,238],datum.value)]",
                "labelPadding": 2, "labelOverlap": false, "labelFlush": false,
                "labelFontWeight": {"condition": {"test": "datum.value == 0", "value": "bold"}, "value": "normal"},
                "labelFontSize": {"condition": {"test": "datum.value == 0", "value": 11.5}, "value": 10.5}
              }
            },
            "y": {
              "field": "v", "type": "quantitative",
              "scale": {"domain": [0, 780], "nice": false},
              "axis": {"orient": "right", "title": null, "values": [100, 200, 300, 400, 500, 600, 700], "labelExpr": "datum.value + 'K'", "tickSize": 3, "labelPadding": 2}
            },
            "color": {"field": "c", "type": "nominal", "scale": {"domain": ["u", "d"], "range": ["#808080", "#d6707c"]}, "legend": null},
            "stroke": {"field": "c", "type": "nominal", "scale": {"domain": ["u", "d"], "range": ["#3a3a3a", "#c32f40"]}, "legend": null}
          }
        },
        {
          "data": {"name": "vema"},
          "mark": {"type": "line", "color": "#000080", "strokeWidth": 1.4},
          "encoding": {
            "x": {"field": "d", "type": "quantitative"},
            "y": {"field": "v", "type": "quantitative"}
          }
        },
        {
          "data": {"values": [{}]},
          "mark": {"type": "text", "text": "Volume 69,700", "font": "DejaVu Sans", "fontSize": 10, "align": "left", "baseline": "middle", "color": "#111111"},
          "encoding": {
            "x": {"datum": 3.3, "type": "quantitative"},
            "y": {"datum": 729, "type": "quantitative"}
          }
        },
        {
          "data": {"values": [{}]},
          "mark": {"type": "text", "text": "━ EMA(150) 144798.22", "font": "DejaVu Sans", "fontSize": 10, "align": "left", "baseline": "middle", "color": "#000080"},
          "encoding": {
            "x": {"datum": 0.8, "type": "quantitative"},
            "y": {"datum": 667, "type": "quantitative"}
          }
        }
      ]
    }
  ]
}
